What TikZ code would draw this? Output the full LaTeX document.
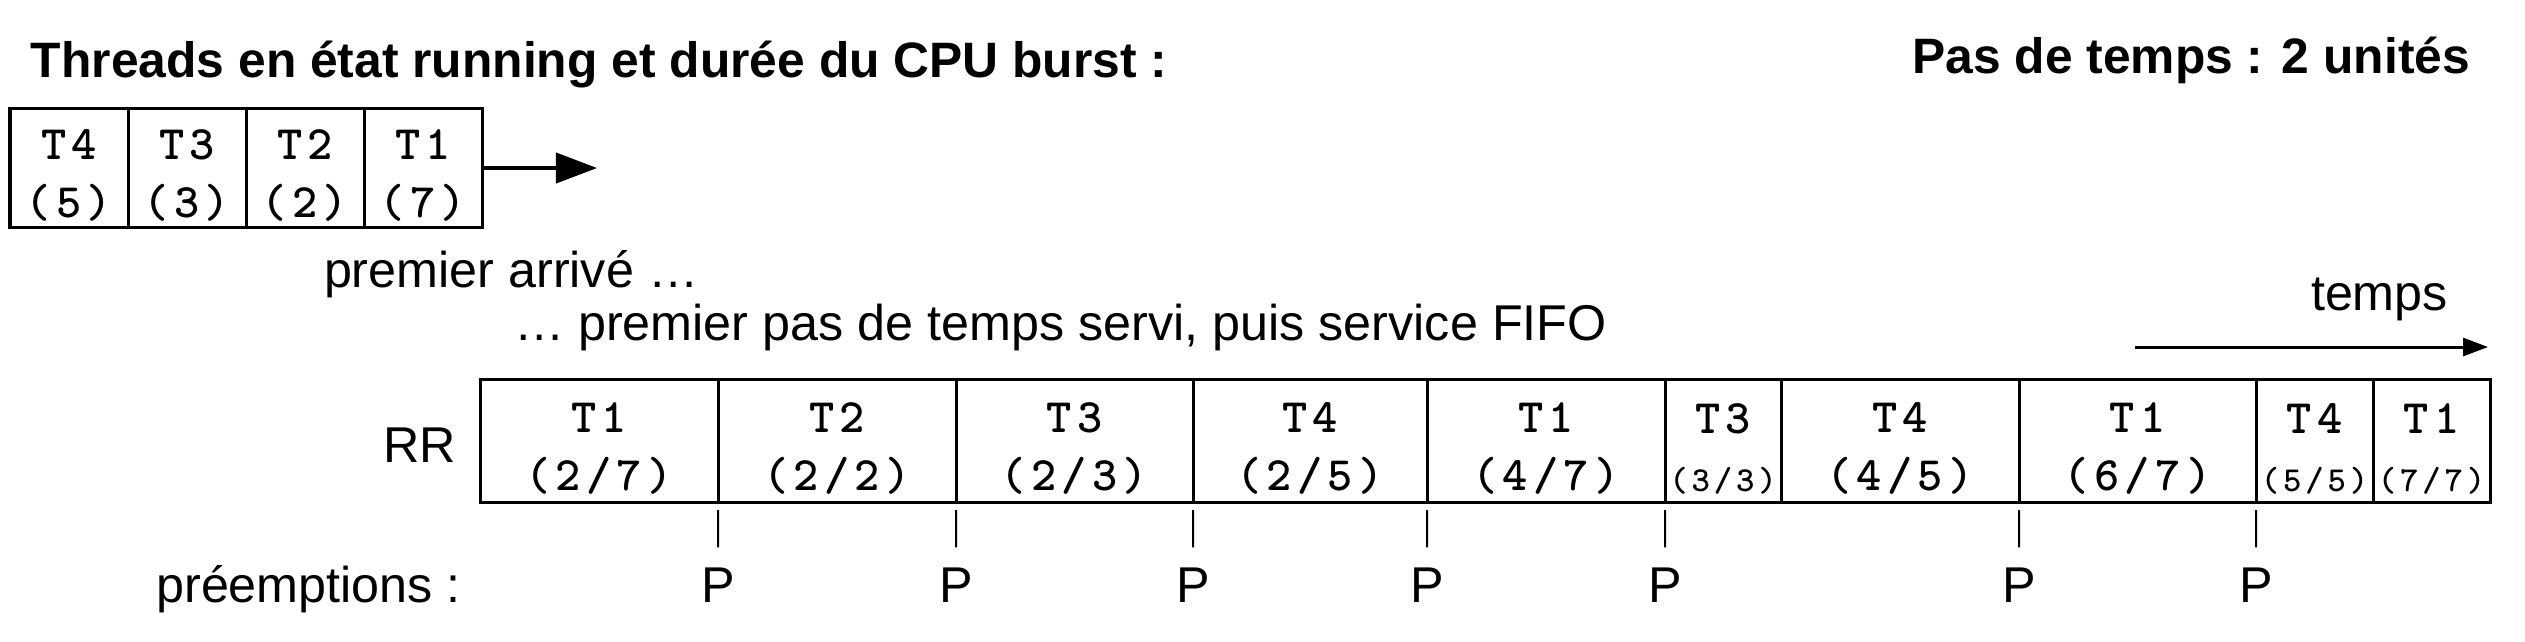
\documentclass[tikz,border=0pt]{standalone}
\usepackage{fontspec}
\setmainfont{Liberation Sans}
\newfontfamily\cellfont{lmmonolt10-bold.otf}[LetterSpace=11]
\usetikzlibrary{arrows.meta}

\newcommand{\txtsize}{\fontsize{14.3pt}{17pt}\selectfont}
\newcommand{\ttlsize}{\fontsize{14.15pt}{17pt}\selectfont}
\newcommand{\bigcell}{\cellfont\fontsize{13.66pt}{0.58cm}\selectfont}
\newcommand{\smallcell}{\cellfont\fontsize{9.96pt}{0.58cm}\selectfont}
\newcommand{\cellstrut}{\rule{0pt}{0.45cm}}

\begin{document}
\begin{tikzpicture}[x=0.01cm, y=-0.01cm,
	every node/.style={inner sep=0pt, outer sep=0pt},
	txt/.style={font=\txtsize},
	ttl/.style={font=\ttlsize\bfseries},
	cell/.style={draw, line width=0.03cm, align=center, font=\bigcell, anchor=west},
	qcell/.style={cell, minimum width=1.18cm, minimum height=1.18cm},
	rcell/.style={cell, minimum height=1.22cm},
	tick/.style={line width=0.02cm}]
			\useasboundingbox (0,0) rectangle (2525,641);
			
			\node[ttl, anchor=base west] (title) at (31,77) {Threads en état running et durée du CPU burst :};
			\node[ttl, anchor=base east] (step) at (2470,73) {Pas de temps : 2 unités};
			
			\node[qcell] (q4) at (10,168) {\cellstrut T4\\(5)};
			\node[qcell] (q3) at (128,168) {\cellstrut T3\\(3)};
			\node[qcell] (q2) at (246,168) {\cellstrut T2\\(2)};
			\node[qcell] (q1) at (364,168) {\cellstrut T1\\(7)};
			\coordinate (qout) at (597,168);
			\draw [line width=0.04cm, -{Triangle[length=0.41cm, width=0.30cm]}] (q1.east) -- (qout);
			
			\node[txt, anchor=base west] (first) at (324,287) {premier arrivé …};
			\node[txt, anchor=base west] (served) at (514,340) {… premier pas de temps servi, puis service FIFO};
			
			\node[txt, anchor=base west] (time) at (2311,310) {temps};
			\coordinate (t0) at (2135,347);
			\coordinate (t1) at (2488,347);
			\draw [line width=0.03cm, -{Triangle[length=0.25cm, width=0.18cm]}] (t0) -- (t1);
			
			\node[txt, anchor=base east] (rr) at (456,462) {RR};
			\node[rcell, minimum width=2.38cm] (r1) at (480,441) {\cellstrut T1\\(2/7)};
			\node[rcell, minimum width=2.38cm] (r2) at (718,441) {\cellstrut T2\\(2/2)};
			\node[rcell, minimum width=2.37cm] (r3) at (956,441) {\cellstrut T3\\(2/3)};
			\node[rcell, minimum width=2.34cm] (r4) at (1193,441) {\cellstrut T4\\(2/5)};
			\node[rcell, minimum width=2.38cm] (r5) at (1427,441) {\cellstrut T1\\(4/7)};
			\node[rcell, minimum width=1.16cm] (r6) at (1665,441) {\cellstrut T3\\{\smallcell (3/3)}};
			\node[rcell, minimum width=2.38cm] (r7) at (1781,441) {\cellstrut T4\\(4/5)};
			\node[rcell, minimum width=2.37cm] (r8) at (2019,441) {\cellstrut T1\\(6/7)};
			\node[rcell, minimum width=1.17cm] (r9) at (2256,441) {\cellstrut T4\\{\smallcell (5/5)}};
			\node[rcell, minimum width=1.17cm] (r10) at (2373,441) {\cellstrut T1\\{\smallcell (7/7)}};
			
			\node[txt, anchor=base east] (preempt) at (461,602) {préemptions :};
			\node[txt, anchor=base] (p1) at (718,602) {P};
			\node[txt, anchor=base] (p2) at (956,602) {P};
			\node[txt, anchor=base] (p3) at (1193,602) {P};
			\node[txt, anchor=base] (p4) at (1427,602) {P};
			\node[txt, anchor=base] (p5) at (1665,602) {P};
			\node[txt, anchor=base] (p6) at (2019,602) {P};
			\node[txt, anchor=base] (p7) at (2256,602) {P};
			\draw [tick] ([yshift=-0.08cm]r1.south east) -- ([yshift=0.2cm]p1.north);
			\draw [tick] ([yshift=-0.08cm]r2.south east) -- ([yshift=0.2cm]p2.north);
			\draw [tick] ([yshift=-0.08cm]r3.south east) -- ([yshift=0.2cm]p3.north);
			\draw [tick] ([yshift=-0.08cm]r4.south east) -- ([yshift=0.2cm]p4.north);
			\draw [tick] ([yshift=-0.08cm]r5.south east) -- ([yshift=0.2cm]p5.north);
			\draw [tick] ([yshift=-0.08cm]r7.south east) -- ([yshift=0.2cm]p6.north);
			\draw [tick] ([yshift=-0.08cm]r8.south east) -- ([yshift=0.2cm]p7.north);
		\end{tikzpicture}
\end{document}
